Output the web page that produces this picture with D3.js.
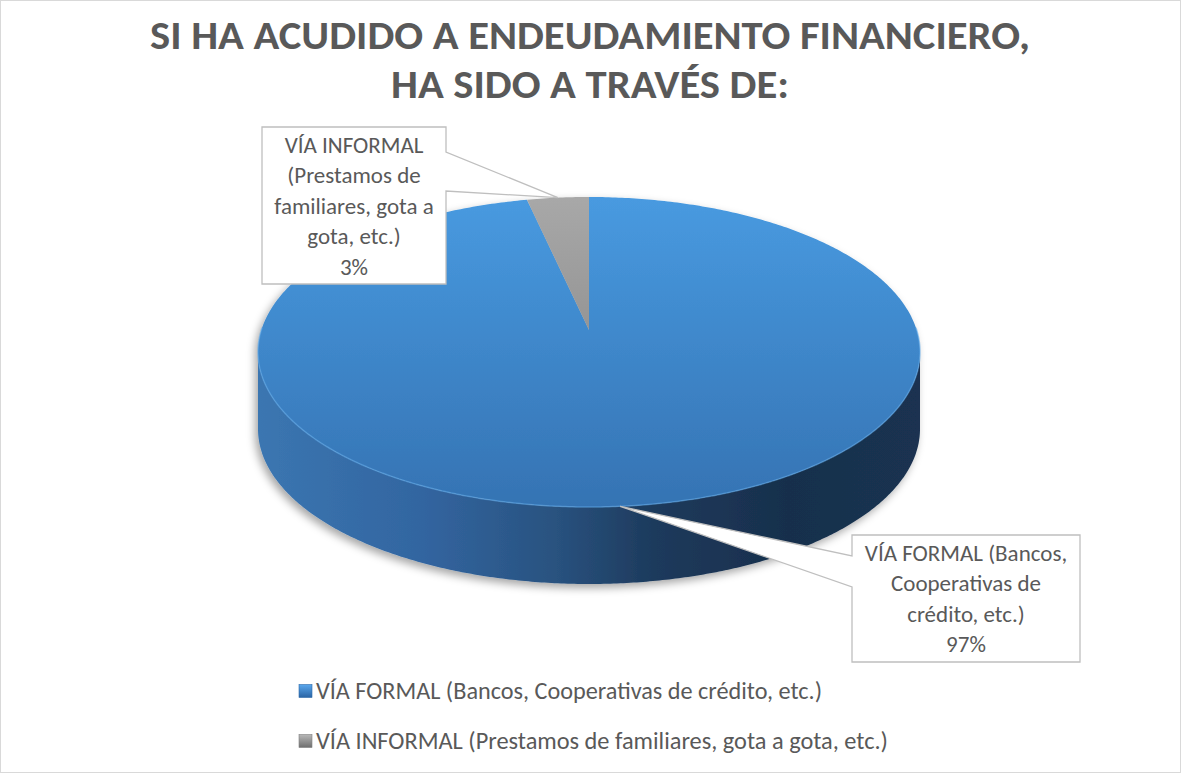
<!DOCTYPE html>
<html>
<head>
<meta charset="utf-8">
<script src="https://cdn.jsdelivr.net/npm/d3@7"></script>
<style>
  html, body { margin: 0; padding: 0; background: #fff; }
  svg { display: block; }
  text { font-family: Carlito, Calibri, Lato, "Open Sans", sans-serif; }
</style>
</head>
<body>
<svg id="chart" width="1181" height="773"></svg>
<script>
// Chart data
const titleLines = ["SI HA ACUDIDO A ENDEUDAMIENTO FINANCIERO,", "HA SIDO A TRAVÉS DE:"];
const categories = [
  "VÍA FORMAL (Bancos, Cooperativas de crédito, etc.)",
  "VÍA INFORMAL (Prestamos de familiares, gota a gota, etc.)"
];
const values = [97, 3];
const labelLines = [
  ["VÍA FORMAL (Bancos,", "Cooperativas de", "crédito, etc.)"],
  ["VÍA INFORMAL", "(Prestamos de", "familiares, gota a", "gota, etc.)"]
];

const W = 1181, H = 773;
const svg = d3.select("#chart");

// Frame
svg.append("rect").attr("x", 0.5).attr("y", 0.5).attr("width", W - 1).attr("height", H - 1)
  .attr("fill", "#fff").attr("stroke", "#d9d9d9");

// Title
const titleWidths = [880, 398];
titleLines.forEach((t, i) => {
  svg.append("text")
    .attr("x", 590).attr("y", 49 + i * 49)
    .attr("text-anchor", "middle")
    .attr("font-size", 40).attr("font-weight", 700)
    .attr("fill", "#595959")
    .attr("textLength", titleWidths[i]).attr("lengthAdjust", "spacingAndGlyphs")
    .text(t);
});

// 3D pie geometry
const cx = 589, cy = 352, rx = 331, ry = 155, depth = 77, apexShift = 22;
const apex = [cx, cy - apexShift];
const rim = (a, dy = 0) => [cx + rx * Math.sin(a), cy - ry * Math.cos(a) + dy];
const arcPts = (a0, a1, dy = 0) => {
  const n = Math.max(2, Math.ceil(Math.abs(a1 - a0) / 0.01));
  return d3.range(n + 1).map(i => rim(a0 + (a1 - a0) * i / n, dy));
};

const pie = d3.pie().sort(null).value(d => d);
const arcs = pie(values);
const total = d3.sum(values);
const pct = d3.format(".0%");

const defs = svg.append("defs");
const topColors = [["#489ae0", "#3573b3"], ["#a8a8a8", "#7c7c7c"]];
topColors.forEach((c, i) => {
  const g = defs.append("linearGradient").attr("id", "top" + i)
    .attr("gradientUnits", "userSpaceOnUse")
    .attr("x1", 0).attr("y1", cy - ry).attr("x2", 0).attr("y2", cy + ry);
  g.append("stop").attr("offset", 0).attr("stop-color", c[0]);
  g.append("stop").attr("offset", 1).attr("stop-color", c[1]);
});
const sideStops = [
  [[0, "#3b76b1"], [0.25, "#3265a0"], [0.45, "#29527f"], [0.6, "#1d3a5c"], [0.8, "#182f4c"], [1, "#1a3351"]],
  [[0, "#8a8a8a"], [1, "#555"]]
];
sideStops.forEach((stops, i) => {
  const g = defs.append("linearGradient").attr("id", "side" + i)
    .attr("gradientUnits", "userSpaceOnUse")
    .attr("x1", cx - rx).attr("y1", 0).attr("x2", cx + rx).attr("y2", 0);
  stops.forEach(s => g.append("stop").attr("offset", s[0]).attr("stop-color", s[1]));
});
const sq = [["#5aa8ee", "#2a64a4"], ["#b8b8b8", "#6e6e6e"]];
sq.forEach((c, i) => {
  const g = defs.append("linearGradient").attr("id", "sq" + i)
    .attr("x1", 0).attr("y1", 0).attr("x2", 0).attr("y2", 1);
  g.append("stop").attr("offset", 0).attr("stop-color", c[0]);
  g.append("stop").attr("offset", 1).attr("stop-color", c[1]);
});
const shadow = defs.append("filter").attr("id", "shadow")
  .attr("x", "-10%").attr("y", "-10%").attr("width", "120%").attr("height", "130%");
shadow.append("feDropShadow").attr("dx", -3).attr("dy", 4).attr("stdDeviation", 4)
  .attr("flood-color", "#000").attr("flood-opacity", 0.35);

const line = d3.line();
const pieG = svg.append("g").attr("filter", "url(#shadow)");

// Side walls (front half only)
arcs.forEach((d, i) => {
  const a0 = Math.max(d.startAngle, Math.PI / 2);
  const a1 = Math.min(d.endAngle, 3 * Math.PI / 2);
  if (a1 <= a0) return;
  const pts = arcPts(a0, a1).concat(arcPts(a1, a0, depth));
  pieG.append("path").attr("d", line(pts) + "Z").attr("fill", `url(#side${i})`);
});

// Top faces
arcs.forEach((d, i) => {
  const pts = [apex].concat(arcPts(d.startAngle, d.endAngle));
  pieG.append("path").attr("d", line(pts) + "Z").attr("fill", `url(#top${i})`);
});

// Soft rim highlight along the front edge of the top face
svg.append("path")
  .attr("d", line(arcPts(Math.PI * 0.45, Math.PI * 1.55)))
  .attr("fill", "none").attr("stroke", "#5ea9ea").attr("stroke-opacity", 0.55).attr("stroke-width", 1.5);

// Callout labels
const boxes = [
  { x: 852, y: 535, w: 228, h: 127, side: "left", w0: 556, w1: 587 },
  { x: 262, y: 127, w: 184, h: 157, side: "right", w0: 152, w1: 191 }
];
arcs.forEach((d, i) => {
  const b = boxes[i];
  const mid = (d.startAngle + d.endAngle) / 2;
  const tip = rim(mid);
  let p;
  if (b.side === "left") {
    p = `M${b.x},${b.y}H${b.x + b.w}V${b.y + b.h}H${b.x}V${b.w1}L${tip[0]},${tip[1]}L${b.x},${b.w0}Z`;
  } else {
    p = `M${b.x},${b.y}H${b.x + b.w}V${b.w0}L${tip[0]},${tip[1]}L${b.x + b.w},${b.w1}V${b.y + b.h}H${b.x}Z`;
  }
  svg.append("path").attr("d", p).attr("fill", "#fff").attr("stroke", "#bfbfbf").attr("stroke-width", 1.3);
  const lines = labelLines[i].concat([pct(d.data / total)]);
  const lh = 30.5;
  const y0 = b.y + b.h / 2 - (lines.length - 1) * lh / 2 + 8;
  lines.forEach((t, k) => {
    svg.append("text")
      .attr("x", b.x + b.w / 2).attr("y", y0 + k * lh)
      .attr("text-anchor", "middle").attr("font-size", 23).attr("fill", "#595959")
      .text(t);
  });
});

// Legend
const legendWidths = [506, 572];
categories.forEach((c, i) => {
  const y = 691 + i * 50;
  svg.append("rect").attr("x", 299).attr("y", y - 6.5).attr("width", 13).attr("height", 13)
    .attr("fill", `url(#sq${i})`).attr("stroke", i ? "#7f7f7f" : "#2e6aa8").attr("stroke-width", 0.6);
  svg.append("text").attr("x", 316).attr("y", y + 8)
    .attr("font-size", 23.5).attr("fill", "#595959")
    .attr("textLength", legendWidths[i]).attr("lengthAdjust", "spacingAndGlyphs")
    .text(c);
});
</script>
</body>
</html>
